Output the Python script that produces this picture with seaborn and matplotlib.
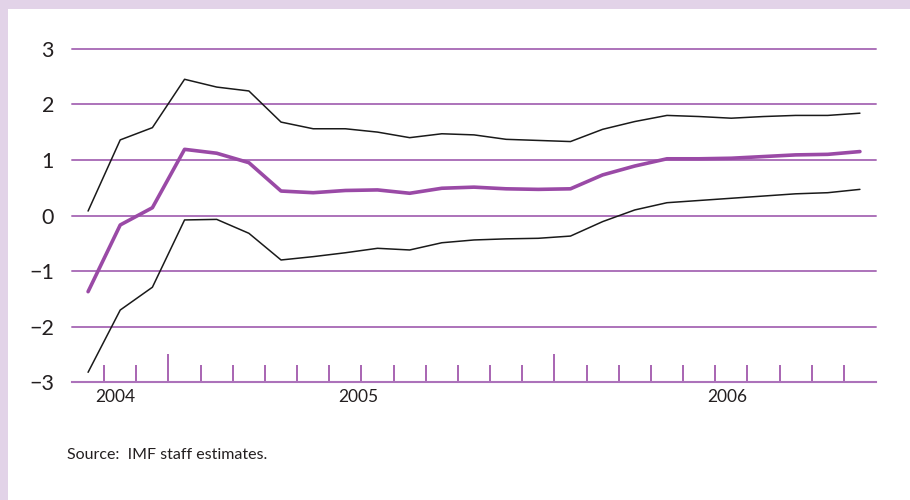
import pandas as pd
import matplotlib.pyplot as plt
import seaborn as sns
from matplotlib.patches import Rectangle

# Data bulanan Okt 2004 - Okt 2006
months = pd.date_range("2004-10-01", "2006-10-01", freq="MS").strftime("%Y-%m").tolist()
upper = [0.08, 1.36, 1.58, 2.45, 2.31, 2.24, 1.68, 1.56, 1.56, 1.50, 1.40, 1.47, 1.45,
         1.37, 1.35, 1.33, 1.55, 1.69, 1.80, 1.78, 1.75, 1.78, 1.80, 1.80, 1.84]
central = [-1.37, -0.17, 0.14, 1.19, 1.12, 0.95, 0.44, 0.41, 0.45, 0.46, 0.40, 0.49, 0.51,
           0.48, 0.47, 0.48, 0.73, 0.89, 1.02, 1.02, 1.03, 1.06, 1.09, 1.10, 1.15]
lower = [-2.82, -1.70, -1.29, -0.08, -0.07, -0.32, -0.80, -0.74, -0.67, -0.59, -0.62, -0.49, -0.44,
         -0.42, -0.41, -0.37, -0.11, 0.10, 0.23, 0.27, 0.31, 0.35, 0.39, 0.41, 0.47]
years = ["2004", "2005", "2006"]
source = "Source:  IMF staff estimates."

df = pd.DataFrame({"idx": range(len(months)), "bulan": months,
                   "upper": upper, "central": central, "lower": lower})

purple = "#9a4aa6"
grid_purple = "#ac72ba"

sns.set_style("white")
plt.rcParams["font.family"] = ["Lato", "DejaVu Sans"]

fig = plt.figure(figsize=(9.1, 5), dpi=100)
fig.patch.set_facecolor("#e2d3e8")
fig.add_artist(Rectangle((8 / 910, 0), 1, 491 / 500, transform=fig.transFigure,
                         facecolor="white", edgecolor="none", zorder=-10))

ax = fig.add_axes([72 / 910, (500 - 382.3) / 500, (876 - 72) / 910, (382.3 - 48.7) / 500])
ax.set_facecolor("none")

sns.lineplot(data=df, x="idx", y="upper", color="#1a1a1a", lw=1.1, ax=ax)
sns.lineplot(data=df, x="idx", y="lower", color="#1a1a1a", lw=1.1, ax=ax)
sns.lineplot(data=df, x="idx", y="central", color=purple, lw=2.6, ax=ax)

ax.set_xlim(-0.5, len(months) - 0.5)
ax.set_ylim(-3, 3)
ax.set_xlabel("")
ax.set_ylabel("")

# garis grid horizontal
ax.set_yticks(range(-3, 4))
ax.set_yticklabels([str(v).replace("-", "\u2212") for v in range(-3, 4)])
ax.yaxis.grid(True, color=grid_purple, lw=1.4)
for gl in ax.get_ygridlines():
    gl.set_clip_on(False)
ax.set_axisbelow(True)
ax.tick_params(axis="y", left=False, length=0, pad=13, labelsize=15.5, labelcolor="#231f20")

# tick bulanan, tick tinggi di batas tahun
year_bounds = [i + 0.5 for i, m in enumerate(months[:-1]) if m.endswith("-12")]
month_bounds = [i + 0.5 for i in range(len(months) - 1) if i + 0.5 not in year_bounds]
ax.set_xticks(year_bounds)
ax.set_xticks(month_bounds, minor=True)
ax.set_xticklabels([])
ax.tick_params(axis="x", which="major", bottom=True, direction="in", length=20, width=1.2, color=purple)
ax.tick_params(axis="x", which="minor", bottom=True, direction="in", length=12, width=1.2, color=purple)

for s in ["top", "right", "left"]:
    ax.spines[s].set_visible(False)
ax.spines["bottom"].set_color(grid_purple)
ax.spines["bottom"].set_linewidth(1.5)

# label tahun
for lab, pos in zip(years, [0.86, 8.41, 19.88]):
    ax.text(pos, -3.27, lab, ha="center", va="center", fontsize=12.5, color="#231f20")

fig.text(67 / 910, 1 - 455 / 500, source, ha="left", va="center", fontsize=11.5, color="#231f20")

plt.savefig("out.png", dpi=100, facecolor=fig.get_facecolor())
